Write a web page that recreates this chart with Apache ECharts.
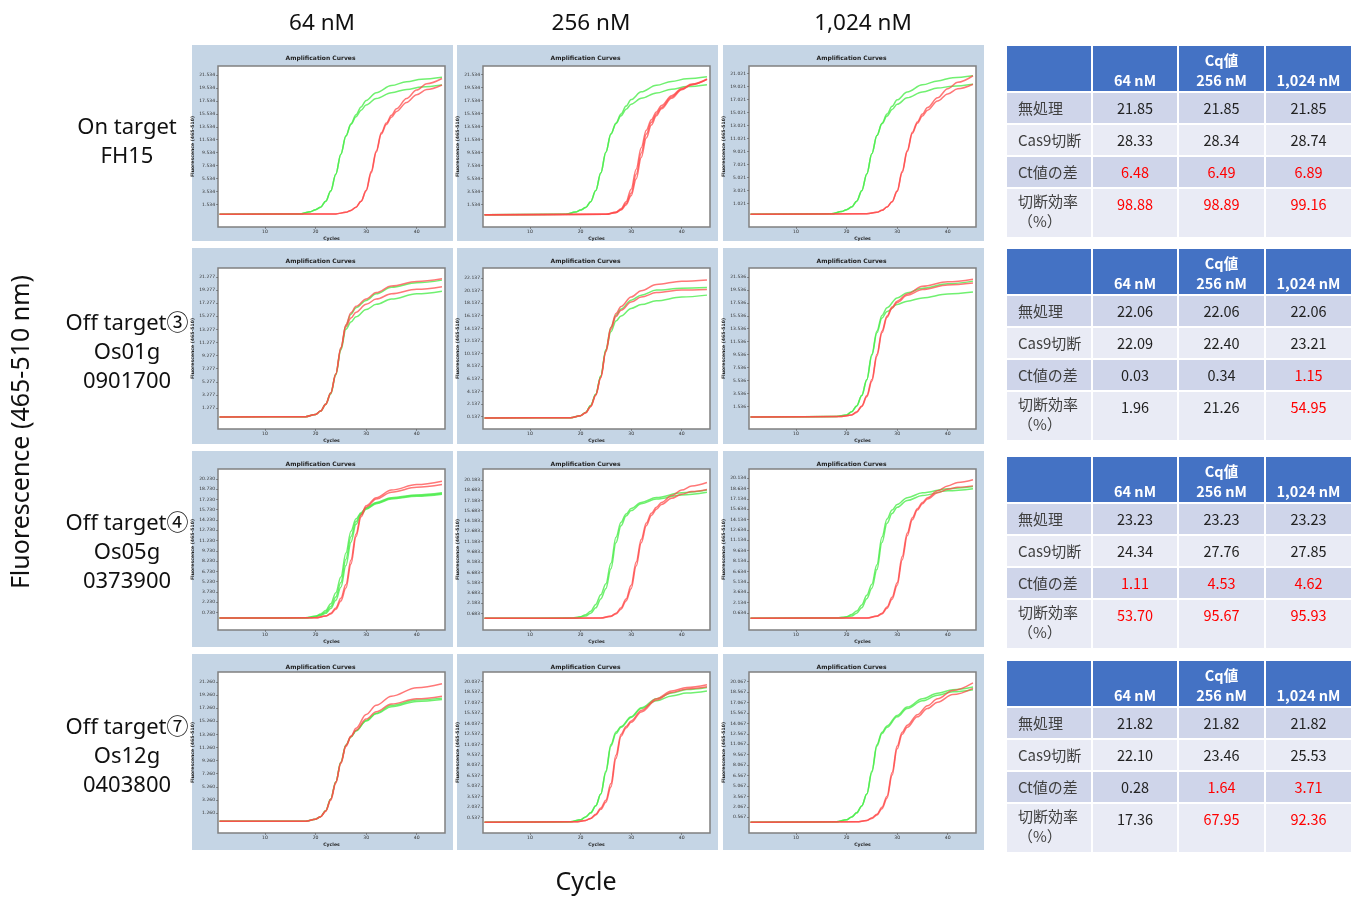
<!DOCTYPE html>
<html><head><meta charset="utf-8">
<script src="https://cdn.jsdelivr.net/npm/echarts@6/dist/echarts.min.js"></script>
<style>html,body{margin:0;padding:0;background:#fff}#c{width:1357px;height:897px}</style>
</head><body><div id="c"></div>
<script>
// ---------------- DATA ----------------
const colLabels = ['64 nM', '256 nM', '1,024 nM'];
const rowLabels = [['On target', 'FH15'], ['Off target③', 'Os01g', '0901700'], ['Off target④', 'Os05g', '0373900'], ['Off target⑦', 'Os12g', '0403800']];
const xTicks = [10, 20, 30, 40];

// y tick labels of each panel
const yt_r1c1 = [1.534, 3.534, 5.534, 7.534, 9.534, 11.534, 13.534, 15.534, 17.534, 19.534, 21.534];
const yt_r1c2 = [1.534, 3.534, 5.534, 7.534, 9.534, 11.534, 13.534, 15.534, 17.534, 19.534, 21.534];
const yt_r1c3 = [1.021, 3.021, 5.021, 7.021, 9.021, 11.021, 13.021, 15.021, 17.021, 19.021, 21.021];
const yt_r2c1 = [1.277, 3.277, 5.277, 7.277, 9.277, 11.277, 13.277, 15.277, 17.277, 19.277, 21.277];
const yt_r2c2 = [0.137, 2.137, 4.137, 6.137, 8.137, 10.137, 12.137, 14.137, 16.137, 18.137, 20.137, 22.137];
const yt_r2c3 = [1.536, 3.536, 5.536, 7.536, 9.536, 11.536, 13.536, 15.536, 17.536, 19.536, 21.536];
const yt_r3c1 = [0.730, 2.230, 3.730, 5.230, 6.730, 8.230, 9.730, 11.230, 12.730, 14.230, 15.730, 17.230, 18.730, 20.230];
const yt_r3c2 = [0.683, 2.183, 3.683, 5.183, 6.683, 8.183, 9.683, 11.183, 12.683, 14.183, 15.683, 17.183, 18.683, 20.183];
const yt_r3c3 = [0.634, 2.134, 3.634, 5.134, 6.634, 8.134, 9.634, 11.134, 12.634, 14.134, 15.634, 17.134, 18.634, 20.134];
const yt_r4c1 = [1.260, 3.260, 5.260, 7.260, 9.260, 11.260, 13.260, 15.260, 17.260, 19.260, 21.260];
const yt_r4c2 = [0.537, 2.037, 3.537, 5.037, 6.537, 8.037, 9.537, 11.037, 12.537, 14.037, 15.537, 17.037, 18.537, 20.037];
const yt_r4c3 = [0.567, 2.067, 3.567, 5.067, 6.567, 8.067, 9.567, 11.067, 12.567, 14.067, 15.567, 17.067, 18.567, 20.067];
const yMinArr = [-1.97, -1.9, -2.57, -1.93, -1.82, -1.97, -1.83, -1.74, -1.83, -1.8, -1.7, -1.7];
const yMaxArr = [22.93, 22.87, 22.2, 22.65, 23.7, 22.93, 21.68, 21.78, 21.44, 22.79, 21.43, 21.45];

// amplification curves [cycle, fluorescence]
const r1c1_g1 = [[1,0],[17,0.05],[19,0.4],[20,0.7],[21,1.1],[22,2.0],[23,3.6],[24,6.2],[25,9.3],[26,12.1],[27,14.0],[28,15.4],[29,16.6],[30,17.6],[32,18.8],[35,19.9],[38,20.5],[41,20.9],[45,21.2]];
const r1c1_g2 = [[1,0],[17,0.05],[19,0.4],[20,0.7],[21,1.1],[22,2.0],[23,3.6],[24,6.2],[25,9.3],[26,12.1],[27,13.9],[28,15.1],[29,16.1],[30,16.9],[32,17.9],[35,18.8],[38,19.3],[41,19.7],[45,20.0]];
const r1c1_r1 = [[1,0],[24,0.05],[26,0.3],[27,0.6],[28,1.1],[29,2.0],[30,3.7],[31,6.6],[32,9.8],[33,12.6],[34,14.1],[35,15.3],[36,16.3],[38,17.9],[40,19.2],[42,20.2],[45,21.0]];
const r1c1_r2 = [[1,0],[24,0.05],[26,0.3],[27,0.6],[28,1.1],[29,2.0],[30,3.6],[31,6.4],[32,9.6],[33,12.4],[34,13.9],[35,15.0],[36,15.9],[38,17.3],[40,18.5],[42,19.3],[45,20.0]];

const r1c2_g1 = [[1,0],[17,0.05],[19,0.4],[20,0.7],[21,1.1],[22,2.0],[23,3.7],[24,6.4],[25,9.6],[26,12.4],[27,14.1],[28,15.5],[29,16.7],[30,17.7],[32,18.9],[35,19.9],[38,20.5],[41,20.9],[45,21.2]];
const r1c2_g2 = [[1,0],[17,0.05],[19,0.4],[20,0.7],[21,1.1],[22,2.0],[23,3.7],[24,6.4],[25,9.6],[26,12.4],[27,14.0],[28,15.2],[29,16.2],[30,17.0],[32,17.9],[35,18.7],[38,19.3],[41,19.7],[45,20.0]];
const r1c2_r1 = [[1,0],[25,0.05],[27,0.4],[28,0.9],[29,2.0],[30,3.9],[31,7.0],[32,10.3],[33,13.0],[34,14.6],[35,15.8],[36,16.8],[38,18.3],[40,19.4],[42,20.1],[45,20.9]];
const r1c2_r2 = [[1,0],[25,0.05],[27,0.35],[28,0.8],[29,1.7],[30,3.3],[31,6.2],[32,9.5],[33,12.4],[34,14.2],[35,15.5],[36,16.5],[38,18.1],[40,19.3],[42,20.0],[45,20.8]];
const r1c2_r3 = [[1,0],[25,0.05],[27,0.3],[28,0.7],[29,1.5],[30,2.9],[31,5.5],[32,8.8],[33,11.8],[34,13.8],[35,15.2],[36,16.3],[38,17.9],[40,19.2],[42,20.0],[45,20.8]];

const r1c3_g1 = [[1,-0.6],[17,-0.55],[19,-0.2],[20,0.1],[21,0.5],[22,1.4],[23,3.0],[24,5.6],[25,8.7],[26,11.5],[27,13.4],[28,14.8],[29,16.0],[30,17.0],[32,18.2],[35,19.3],[38,19.9],[41,20.4],[45,20.7]];
const r1c3_g2 = [[1,-0.6],[17,-0.55],[19,-0.2],[20,0.1],[21,0.5],[22,1.4],[23,3.0],[24,5.6],[25,8.7],[26,11.5],[27,13.3],[28,14.5],[29,15.5],[30,16.3],[32,17.3],[35,18.2],[38,18.8],[41,19.1],[45,19.4]];
const r1c3_r1 = [[1,-0.6],[24,-0.55],[26,-0.3],[27,0.0],[28,0.5],[29,1.3],[30,3.0],[31,6.0],[32,9.2],[33,12.0],[34,13.6],[35,14.8],[36,15.8],[38,17.3],[40,18.7],[42,19.7],[45,20.7]];
const r1c3_r2 = [[1,-0.6],[24,-0.55],[26,-0.3],[27,0.0],[28,0.5],[29,1.3],[30,2.9],[31,5.8],[32,9.0],[33,11.8],[34,13.4],[35,14.5],[36,15.4],[38,16.8],[40,17.9],[42,18.7],[45,19.4]];

const r2c1_g1 = [[1,-0.1],[18,-0.05],[20,0.3],[21,0.8],[22,1.9],[23,3.6],[24,6.5],[25,10.4],[26,13.9],[27,15.6],[28,16.6],[30,17.7],[32,18.7],[35,19.7],[40,20.4],[45,20.8]];
const r2c1_g2 = [[1,-0.1],[18,-0.05],[20,0.3],[21,0.8],[22,1.8],[23,3.4],[24,6.3],[25,10.1],[26,13.3],[27,14.4],[28,15.2],[30,16.3],[32,17.1],[35,17.9],[40,18.7],[45,19.1]];
const r2c1_r1 = [[1,-0.1],[18,-0.05],[20,0.3],[21,0.8],[22,1.9],[23,3.6],[24,6.5],[25,10.5],[26,14.0],[27,15.8],[28,16.8],[30,17.9],[32,18.9],[35,19.9],[40,20.6],[45,21.0]];
const r2c1_r2 = [[1,-0.1],[18,-0.05],[20,0.3],[21,0.8],[22,1.8],[23,3.5],[24,6.4],[25,10.3],[26,13.7],[27,15.0],[28,15.9],[30,17.1],[32,17.9],[35,18.7],[40,19.4],[45,19.8]];

const r2c2_g1 = [[1,-0.07],[18,-0.03],[20,0.3],[21,0.8],[22,1.9],[23,3.7],[24,6.6],[25,10.8],[26,14.3],[27,16.2],[28,17.2],[30,18.6],[32,19.4],[35,20.2],[40,20.5],[45,20.6]];
const r2c2_g2 = [[1,-0.07],[18,-0.03],[20,0.3],[21,0.8],[22,1.9],[23,3.7],[24,6.6],[25,10.6],[26,13.6],[27,15.3],[28,16.1],[30,17.3],[32,17.9],[35,18.5],[40,19.1],[45,19.4]];
const r2c2_r1 = [[1,-0.07],[18,-0.03],[20,0.3],[21,0.8],[22,1.8],[23,3.6],[24,6.4],[25,10.6],[26,14.3],[27,16.5],[28,17.6],[30,19.1],[32,20.1],[35,21.1],[40,21.6],[45,21.8]];
const r2c2_r2 = [[1,-0.07],[18,-0.03],[20,0.3],[21,0.7],[22,1.7],[23,3.5],[24,6.3],[25,10.4],[26,14.0],[27,16.0],[28,17.0],[30,18.3],[32,19.1],[35,19.8],[40,20.2],[45,20.3]];

const r2c3_g1 = [[1,-0.11],[18,-0.05],[20,0.2],[21,0.7],[22,1.6],[23,3.2],[24,5.7],[25,9.6],[26,13.2],[27,15.6],[28,16.8],[30,18.3],[32,19.1],[35,19.8],[40,20.5],[45,20.9]];
const r2c3_g2 = [[1,-0.11],[18,-0.05],[20,0.2],[21,0.7],[22,1.6],[23,3.2],[24,5.6],[25,9.4],[26,12.9],[27,15.2],[28,16.2],[30,17.3],[32,17.8],[35,18.3],[40,18.9],[45,19.2]];
const r2c3_r1 = [[1,-0.11],[19,-0.05],[21,0.2],[22,0.7],[23,1.6],[24,3.2],[25,5.7],[26,9.6],[27,13.2],[28,15.5],[29,16.9],[30,17.8],[32,18.9],[35,20.1],[40,20.8],[45,21.2]];
const r2c3_r2 = [[1,-0.11],[19,-0.05],[21,0.2],[22,0.6],[23,1.5],[24,3.0],[25,5.4],[26,9.3],[27,12.9],[28,15.3],[29,16.7],[30,17.6],[32,18.7],[35,19.6],[40,20.3],[45,20.6]];

const r3c1_g1 = [[1,-0.09],[18,-0.05],[20,0.2],[21,0.5],[22,1.0],[23,2.0],[24,3.6],[25,5.9],[26,9.4],[27,12.6],[28,14.4],[29,15.3],[30,16.0],[32,16.8],[35,17.5],[40,17.9],[45,18.2]];
const r3c1_g2 = [[1,-0.09],[18,-0.05],[20,0.15],[21,0.4],[22,0.8],[23,1.6],[24,3.0],[25,5.1],[26,8.5],[27,11.8],[28,14.0],[29,15.2],[30,15.9],[32,16.7],[35,17.4],[40,17.8],[45,18.1]];
const r3c1_g3 = [[1,-0.09],[19,-0.05],[21,0.3],[22,0.6],[23,1.3],[24,2.5],[25,4.4],[26,7.6],[27,11.0],[28,13.6],[29,15.0],[30,15.8],[32,16.6],[35,17.3],[40,17.7],[45,18.0]];
const r3c1_r1 = [[1,-0.09],[20,-0.05],[22,0.2],[23,0.6],[24,1.4],[25,2.8],[26,4.8],[27,8.4],[28,12.2],[29,15.0],[30,16.3],[32,17.5],[35,18.6],[40,19.4],[45,19.9]];
const r3c1_r2 = [[1,-0.09],[20,-0.05],[22,0.2],[23,0.5],[24,1.2],[25,2.4],[26,4.3],[27,7.8],[28,11.8],[29,14.7],[30,16.1],[32,17.3],[35,18.3],[40,19.0],[45,19.4]];

const r3c2_g1 = [[1,-0.04],[18,0],[20,0.2],[21,0.5],[22,1.0],[23,2.0],[24,3.4],[25,5.0],[26,8.0],[27,11.8],[28,14.0],[29,15.2],[30,16.0],[32,16.9],[35,17.6],[40,18.3],[45,18.7]];
const r3c2_g2 = [[1,-0.04],[19,0],[21,0.3],[22,0.7],[23,1.5],[24,2.8],[25,4.3],[26,7.2],[27,11.0],[28,13.5],[29,14.9],[30,15.7],[32,16.7],[35,17.4],[40,18.0],[45,18.4]];
const r3c2_r1 = [[1,-0.04],[24,0],[26,0.3],[27,0.7],[28,1.5],[29,2.8],[30,4.8],[31,8.2],[32,11.5],[33,13.9],[34,15.3],[35,16.2],[36,16.9],[38,17.9],[40,18.7],[42,19.3],[45,19.8]];
const r3c2_r2 = [[1,-0.04],[24,0],[26,0.25],[27,0.6],[28,1.3],[29,2.5],[30,4.3],[31,7.6],[32,11.0],[33,13.5],[34,15.0],[35,15.9],[36,16.6],[38,17.5],[40,18.1],[42,18.5],[45,18.8]];

const r3c3_g1 = [[1,-0.14],[18,-0.1],[20,0.1],[21,0.4],[22,0.9],[23,1.8],[24,3.2],[25,4.8],[26,7.6],[27,11.6],[28,14.2],[29,15.5],[30,16.3],[32,17.3],[35,18.0],[40,18.6],[45,18.9]];
const r3c3_g2 = [[1,-0.14],[19,-0.1],[21,0.2],[22,0.6],[23,1.4],[24,2.7],[25,4.2],[26,6.9],[27,10.8],[28,13.6],[29,15.0],[30,15.9],[32,16.9],[35,17.6],[40,18.3],[45,18.6]];
const r3c3_r1 = [[1,-0.14],[24,-0.1],[26,0.2],[27,0.6],[28,1.5],[29,2.9],[30,5.0],[31,8.8],[32,12.2],[33,14.4],[34,15.7],[35,16.6],[36,17.3],[38,18.3],[40,19.0],[42,19.5],[45,19.9]];
const r3c3_r2 = [[1,-0.14],[24,-0.1],[26,0.15],[27,0.5],[28,1.3],[29,2.6],[30,4.6],[31,8.3],[32,11.8],[33,14.1],[34,15.5],[35,16.4],[36,17.1],[38,18.0],[40,18.5],[42,18.8],[45,19.0]];

const r4c1_g1 = [[1,-0.02],[18,0],[20,0.3],[21,0.7],[22,1.6],[23,3.4],[24,6.0],[25,9.0],[26,11.6],[27,12.9],[28,13.8],[30,15.4],[32,16.5],[35,17.7],[40,18.5],[45,18.8]];
const r4c1_g2 = [[1,-0.02],[18,0],[20,0.3],[21,0.7],[22,1.6],[23,3.4],[24,6.0],[25,9.0],[26,11.6],[27,12.9],[28,13.8],[30,15.3],[32,16.4],[35,17.5],[40,18.3],[45,18.6]];
const r4c1_r1 = [[1,-0.02],[18,0],[20,0.3],[21,0.7],[22,1.6],[23,3.4],[24,6.0],[25,9.0],[26,11.6],[27,13.0],[28,14.2],[30,16.3],[32,17.7],[35,19.1],[40,20.4],[45,21.0]];
const r4c1_r2 = [[1,-0.02],[18,0],[20,0.3],[21,0.7],[22,1.5],[23,3.2],[24,5.8],[25,8.8],[26,11.4],[27,12.9],[28,13.9],[30,15.6],[32,16.7],[35,17.9],[40,18.7],[45,19.1]];

const r4c2_g1 = [[1,-0.14],[18,-0.1],[20,0.2],[21,0.6],[22,1.2],[23,2.2],[24,3.9],[25,7.2],[26,11.0],[27,12.8],[28,13.6],[30,15.0],[32,16.3],[35,17.6],[38,18.4],[41,18.9],[45,19.2]];
const r4c2_g2 = [[1,-0.14],[18,-0.1],[20,0.2],[21,0.6],[22,1.2],[23,2.2],[24,3.9],[25,7.0],[26,10.8],[27,12.6],[28,13.5],[30,14.9],[32,16.2],[35,17.3],[38,18.0],[41,18.4],[45,18.7]];
const r4c2_r1 = [[1,-0.14],[19,-0.1],[21,0.1],[22,0.4],[23,1.0],[24,1.9],[25,3.0],[26,5.4],[27,9.5],[28,12.5],[29,13.6],[30,14.4],[32,15.9],[35,17.6],[38,18.7],[41,19.2],[45,19.6]];
const r4c2_r2 = [[1,-0.14],[19,-0.1],[21,0.1],[22,0.4],[23,0.9],[24,1.7],[25,2.7],[26,4.9],[27,9.0],[28,12.2],[29,13.4],[30,14.2],[32,15.7],[35,17.4],[38,18.5],[41,19.0],[45,19.3]];

const r4c3_g1 = [[1,-0.14],[18,-0.1],[20,0.2],[21,0.6],[22,1.2],[23,2.2],[24,3.9],[25,7.2],[26,11.0],[27,12.8],[28,13.7],[30,15.2],[32,16.4],[35,17.6],[38,18.4],[41,18.9],[45,19.3]];
const r4c3_g2 = [[1,-0.14],[18,-0.1],[20,0.2],[21,0.6],[22,1.2],[23,2.2],[24,3.9],[25,7.0],[26,10.8],[27,12.6],[28,13.5],[30,15.0],[32,16.2],[35,17.3],[38,18.1],[41,18.6],[45,18.9]];
const r4c3_r1 = [[1,-0.14],[22,-0.1],[24,0.1],[25,0.5],[26,1.0],[27,2.0],[28,3.6],[29,7.0],[30,10.8],[31,12.8],[32,13.8],[34,15.3],[36,16.6],[38,17.6],[41,18.8],[45,19.9]];
const r4c3_r2 = [[1,-0.14],[22,-0.1],[24,0.1],[25,0.4],[26,0.9],[27,1.8],[28,3.3],[29,6.6],[30,10.4],[31,12.5],[32,13.5],[34,15.0],[36,16.2],[38,17.1],[41,18.2],[45,19.1]];

// Cq tables
const tableRowNames = ['無処理', 'Cas9切断', 'Ct値の差', '切断効率'];
const t1_untreated = [21.85, 21.85, 21.85], t1_cas9 = [28.33, 28.34, 28.74], t1_diff = [6.48, 6.49, 6.89], t1_eff = [98.88, 98.89, 99.16];
const t2_untreated = [22.06, 22.06, 22.06], t2_cas9 = [22.09, 22.40, 23.21], t2_diff = [0.03, 0.34, 1.15], t2_eff = [1.96, 21.26, 54.95];
const t3_untreated = [23.23, 23.23, 23.23], t3_cas9 = [24.34, 27.76, 27.85], t3_diff = [1.11, 4.53, 4.62], t3_eff = [53.70, 95.67, 95.93];
const t4_untreated = [21.82, 21.82, 21.82], t4_cas9 = [22.10, 23.46, 25.53], t4_diff = [0.28, 1.64, 3.71], t4_eff = [17.36, 67.95, 92.36];

// ---------------- BUILD ----------------
const yTickSets = [yt_r1c1, yt_r1c2, yt_r1c3, yt_r2c1, yt_r2c2, yt_r2c3, yt_r3c1, yt_r3c2, yt_r3c3, yt_r4c1, yt_r4c2, yt_r4c3];
const greenSets = [[r1c1_g1, r1c1_g2], [r1c2_g1, r1c2_g2], [r1c3_g1, r1c3_g2],
  [r2c1_g1, r2c1_g2], [r2c2_g1, r2c2_g2], [r2c3_g1, r2c3_g2],
  [r3c1_g1, r3c1_g2, r3c1_g3], [r3c2_g1, r3c2_g2], [r3c3_g1, r3c3_g2],
  [r4c1_g1, r4c1_g2], [r4c2_g1, r4c2_g2], [r4c3_g1, r4c3_g2]];
const redSets = [[r1c1_r1, r1c1_r2], [r1c2_r1, r1c2_r2, r1c2_r3], [r1c3_r1, r1c3_r2],
  [r2c1_r1, r2c1_r2], [r2c2_r1, r2c2_r2], [r2c3_r1, r2c3_r2],
  [r3c1_r1, r3c1_r2], [r3c2_r1, r3c2_r2], [r3c3_r1, r3c3_r2],
  [r4c1_r1, r4c1_r2], [r4c2_r1, r4c2_r2], [r4c3_r1, r4c3_r2]];
const tables = [[t1_untreated, t1_cas9, t1_diff, t1_eff], [t2_untreated, t2_cas9, t2_diff, t2_eff],
  [t3_untreated, t3_cas9, t3_diff, t3_eff], [t4_untreated, t4_cas9, t4_diff, t4_eff]];

// layout
const panelX = [192, 457, 723], panelY = [45, 248, 451, 654], panelW = 261, panelH = 196;
const plotLeft = [218, 483, 749], plotTop = [66, 268, 469, 672], plotW = 227, plotH = 161;
const SANS = "'Noto Sans', 'Noto Sans CJK JP', sans-serif";
const JP = "'Noto Sans CJK JP', 'Noto Sans', sans-serif";
const GREEN = '#4cec4c', RED = '#ff4a4a';

const grids = [], xAxes = [], yAxes = [], series = [], graphics = [];
for (let r = 0; r < 4; r++) {
  for (let c = 0; c < 3; c++) {
    const i = r * 3 + c;
    graphics.push({ type: 'rect', z: -10, shape: { x: panelX[c], y: panelY[r], width: panelW, height: panelH }, style: { fill: '#c5d5e5' } });
    graphics.push({ type: 'text', z: 5, x: panelX[c] + panelW / 2 - 2, y: panelY[r] + 13,
      style: { text: 'Amplification Curves', fill: '#222', fontSize: 6, fontWeight: 'bold', fontFamily: 'DejaVu Sans', align: 'center', verticalAlign: 'middle' } });
    grids.push({ left: plotLeft[c], top: plotTop[r], width: plotW, height: plotH, show: true, backgroundColor: '#fff', borderColor: '#808080', borderWidth: 1.5 });
    xAxes.push({ type: 'value', gridIndex: i, min: 0.7, max: 45.6,
      axisLine: { show: false, onZero: false }, splitLine: { show: false },
      axisTick: { show: true, length: 2, customValues: xTicks, lineStyle: { color: '#555', width: 0.6 } },
      axisLabel: { customValues: xTicks, fontSize: 4.6, color: '#333', margin: 2, fontFamily: 'DejaVu Sans' },
      name: 'Cycles', nameLocation: 'middle', nameGap: 9,
      nameTextStyle: { fontSize: 4.6, fontWeight: 'bold', color: '#222', fontFamily: 'DejaVu Sans' } });
    yAxes.push({ type: 'value', gridIndex: i, min: yMinArr[i], max: yMaxArr[i],
      axisLine: { show: false, onZero: false }, splitLine: { show: false },
      axisTick: { show: true, length: 2, customValues: yTickSets[i], lineStyle: { color: '#555', width: 0.6 } },
      axisLabel: { customValues: yTickSets[i], formatter: v => v.toFixed(3), fontSize: 4.5, color: '#333', margin: 3, fontFamily: 'DejaVu Sans' },
      name: 'Fluorescence (465-510)', nameLocation: 'middle', nameGap: 20,
      nameTextStyle: { fontSize: 4.6, fontWeight: 'bold', color: '#222', fontFamily: 'DejaVu Sans' } });
    greenSets[i].forEach(d => series.push({ type: 'line', xAxisIndex: i, yAxisIndex: i, data: d, showSymbol: false,
      smooth: 0.35, smoothMonotone: 'x', silent: true, lineStyle: { color: GREEN, width: 1.5, opacity: 0.8 } }));
    redSets[i].forEach(d => series.push({ type: 'line', xAxisIndex: i, yAxisIndex: i, data: d, showSymbol: false,
      smooth: 0.35, smoothMonotone: 'x', silent: true, lineStyle: { color: RED, width: 1.5, opacity: 0.75 } }));
  }
}

// column titles
const colCenters = [322, 591, 863];
colLabels.forEach((t, c) => graphics.push({ type: 'text', x: colCenters[c], y: 24,
  style: { text: t, fill: '#111', fontSize: 22.5, fontFamily: SANS, align: 'center', verticalAlign: 'middle' } }));
// row labels
const rowCenters = [142, 353, 553, 757];
rowLabels.forEach((lines, r) => {
  const n = lines.length;
  lines.forEach((t, k) => graphics.push({ type: 'text', x: 127, y: rowCenters[r] + (k - (n - 1) / 2) * 29,
    style: { text: t, fill: '#111', fontSize: 22, fontFamily: SANS, align: 'center', verticalAlign: 'middle' } }));
});
// axis titles
graphics.push({ type: 'text', x: 22, y: 432, rotation: Math.PI / 2,
  style: { text: 'Fluorescence (465-510 nm)', fill: '#111', fontSize: 25, fontFamily: SANS, align: 'center', verticalAlign: 'middle' } });
graphics.push({ type: 'text', x: 586, y: 883,
  style: { text: 'Cycle', fill: '#111', fontSize: 25, fontFamily: SANS, align: 'center', verticalAlign: 'middle' } });

// tables
const tColX = [1007, 1093, 1179, 1266], tColW = [84, 84, 85, 85];
const tTop = [46, 249, 457, 661];
const rowH = [45, 30, 30, 30, 48];
const rowFill = ['#4472c4', '#cfd5ea', '#e9ebf5', '#cfd5ea', '#e9ebf5'];
tables.forEach((tb, ti) => {
  let y = tTop[ti];
  const rowYs = [];
  for (let k = 0; k < 5; k++) {
    rowYs.push(y);
    for (let c = 0; c < 4; c++) {
      graphics.push({ type: 'rect', z: -5, shape: { x: tColX[c], y: y, width: tColW[c], height: rowH[k] }, style: { fill: rowFill[k] } });
    }
    y += rowH[k] + 2;
  }
  const hdrY = rowYs[0];
  const hdr = (t, c, dy) => graphics.push({ type: 'text', x: tColX[c] + tColW[c] / 2, y: hdrY + dy,
    style: { text: t, fill: '#fff', fontSize: 14.5, fontWeight: 'bold', fontFamily: JP, align: 'center', verticalAlign: 'middle' } });
  hdr('64 nM', 1, 34); hdr('Cq値', 2, 14); hdr('256 nM', 2, 34); hdr('1,024 nM', 3, 34);
  const red = tb[2].map(v => v >= 1);
  for (let k = 0; k < 4; k++) {
    const ry = rowYs[k + 1];
    const cy = k < 3 ? ry + rowH[k + 1] / 2 : ry + 15;
    graphics.push({ type: 'text', x: 1018, y: cy - (k === 3 ? 3 : 0),
      style: { text: tableRowNames[k], fill: '#404040', fontSize: 15, fontFamily: JP, align: 'left', verticalAlign: 'middle' } });
    if (k === 3) graphics.push({ type: 'text', x: 1018, y: ry + 32,
      style: { text: '（%）', fill: '#404040', fontSize: 15, fontFamily: JP, align: 'left', verticalAlign: 'middle' } });
    tb[k].forEach((v, c) => graphics.push({ type: 'text', x: tColX[c + 1] + tColW[c + 1] / 2, y: cy,
      style: { text: v.toFixed(2), fill: (k >= 2 && red[c]) ? '#ff0000' : '#222', fontSize: 14.5, fontFamily: JP, align: 'center', verticalAlign: 'middle' } }));
  }
});

const chart = echarts.init(document.getElementById('c'), null, { renderer: 'canvas' });
chart.setOption({ animation: false, backgroundColor: '#fff', grid: grids, xAxis: xAxes, yAxis: yAxes, series: series, graphic: { elements: graphics } });
</script></body></html>
